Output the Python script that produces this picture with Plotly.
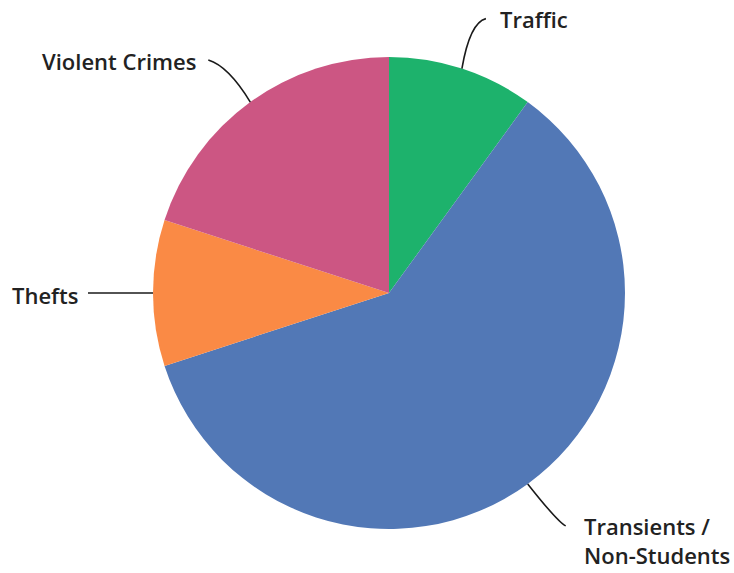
import math
import plotly.graph_objects as go

categories = ["Traffic", "Transients / Non-Students", "Thefts", "Violent Crimes"]
label_texts = ["Traffic", "Transients /<br>Non-Students", "Thefts", "Violent Crimes"]
values = [10, 60, 10, 20]
colors = ["#1DB26C", "#5278B6", "#FA8A45", "#CC5683"]

W, H = 734, 573
CX, CY, R = 389, 293, 236

fig = go.Figure()
fig.add_trace(go.Pie(
    labels=categories, values=values, sort=False, direction="clockwise", rotation=0,
    marker=dict(colors=colors, line=dict(width=0)), textinfo="none", hoverinfo="label+percent",
    domain=dict(x=[(CX - R) / W, (CX + R) / W], y=[1 - (CY + R) / H, 1 - (CY - R) / H]),
    showlegend=False,
))

# leader-line styling per slice
leader = [
    dict(end=(24, -50), ctrl=(8, -46), xanchor="left", ldx=12, ldy=0),
    dict(end=(38, 42), ctrl=(30, 38), xanchor="left", ldx=16, ldy=15),
    dict(end=(-65, 0), ctrl=(-30, 0), xanchor="right", ldx=-8, ldy=2),
    dict(end=(-42, -42), ctrl=(-22, -36), xanchor="right", ldx=-10, ldy=1),
]

total = sum(values)
cum = 0
shapes, annos = [], []
for v, txt, st in zip(values, label_texts, leader):
    mid = (cum + v / 2) / total * 2 * math.pi
    cum += v
    sx = CX + R * math.sin(mid)
    sy = CY - R * math.cos(mid)
    ex, ey = sx + st["end"][0], sy + st["end"][1]
    qx, qy = sx + st["ctrl"][0], sy + st["ctrl"][1]
    shapes.append(dict(type="path", xref="x", yref="y",
                       path=f"M {sx:.1f},{sy:.1f} Q {qx:.1f},{qy:.1f} {ex:.1f},{ey:.1f}",
                       line=dict(color="#1a1a1a", width=1.6)))
    annos.append(dict(x=ex + st["ldx"], y=ey + st["ldy"], xref="x", yref="y", text=txt,
                      showarrow=False, xanchor=st["xanchor"], yanchor="middle", align="left",
                      font=dict(family="Open Sans", size=22, color="#222222", weight=600)))

fig.update_layout(
    width=W, height=H, margin=dict(l=0, r=0, t=0, b=0),
    paper_bgcolor="white", plot_bgcolor="rgba(0,0,0,0)",
    xaxis=dict(range=[0, W], visible=False, fixedrange=True),
    yaxis=dict(range=[H, 0], visible=False, fixedrange=True),
    shapes=shapes, annotations=annos,
)
fig.write_html("out.html", config={"displayModeBar": False},
               post_script="document.body.style.margin='0';")
